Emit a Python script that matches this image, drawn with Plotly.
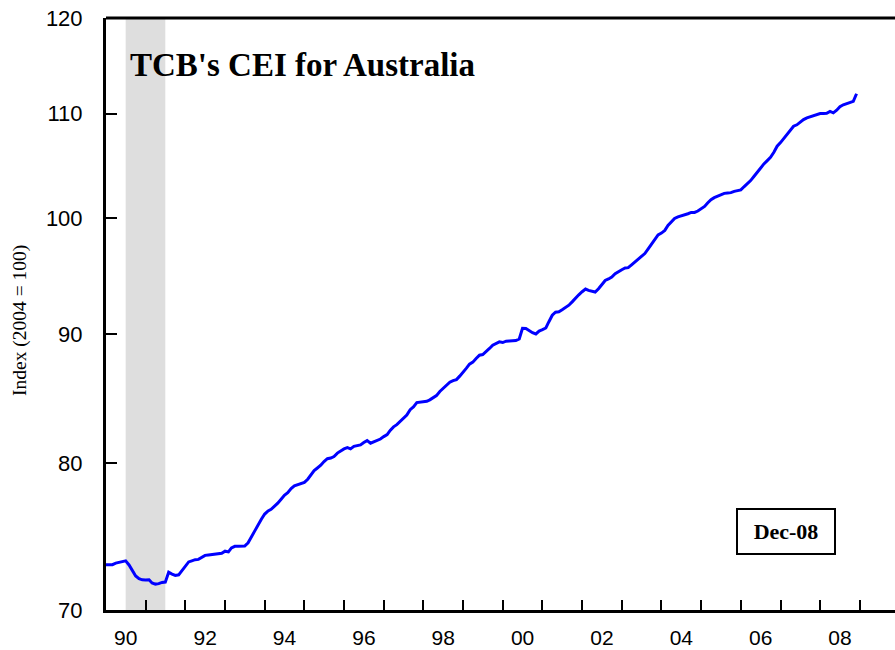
import math
import pandas as pd
import plotly.graph_objects as go

# ---- data (monthly, Jan 1990 - Dec 2008), index 2004 = 100 ----
cei_1990 = [72.95, 72.95, 72.95, 73.05, 73.10, 73.15, 73.20, 72.93, 72.51, 72.20, 72.02, 71.95]
cei_1991 = [71.94, 71.95, 71.74, 71.67, 71.70, 71.78, 71.80, 72.45, 72.33, 72.24, 72.28, 72.55]
cei_1992 = [72.86, 73.13, 73.20, 73.28, 73.30, 73.44, 73.57, 73.60, 73.62, 73.68, 73.68, 73.71]
cei_1993 = [73.85, 73.80, 74.07, 74.18, 74.18, 74.18, 74.20, 74.42, 74.84, 75.24, 75.61, 76.03]
cei_1994 = [76.39, 76.61, 76.72, 76.91, 77.15, 77.43, 77.71, 77.89, 78.18, 78.37, 78.46, 78.52]
cei_1995 = [78.62, 78.85, 79.18, 79.47, 79.66, 79.86, 80.13, 80.34, 80.39, 80.50, 80.75, 80.93]
cei_1996 = [81.06, 81.15, 81.06, 81.25, 81.28, 81.35, 81.53, 81.67, 81.48, 81.58, 81.67, 81.79]
cei_1997 = [81.97, 82.12, 82.44, 82.70, 82.87, 83.10, 83.39, 83.59, 84.01, 84.22, 84.55, 84.60]
cei_1998 = [84.60, 84.65, 84.76, 84.91, 85.09, 85.41, 85.66, 85.93, 86.13, 86.26, 86.34, 86.61]
cei_1999 = [86.89, 87.24, 87.56, 87.72, 88.01, 88.28, 88.33, 88.55, 88.82, 89.09, 89.20, 89.36]
cei_2000 = [89.30, 89.41, 89.43, 89.43, 89.46, 89.59, 90.47, 90.45, 90.27, 90.10, 90.00, 90.24]
cei_2001 = [90.35, 90.49, 91.01, 91.55, 91.80, 91.83, 92.00, 92.19, 92.39, 92.67, 93.02, 93.27]
cei_2002 = [93.53, 93.76, 93.64, 93.55, 93.50, 93.78, 94.15, 94.49, 94.62, 94.79, 95.07, 95.27]
cei_2003 = [95.42, 95.57, 95.60, 95.85, 96.11, 96.32, 96.58, 96.84, 97.26, 97.70, 98.12, 98.50]
cei_2004 = [98.66, 98.90, 99.34, 99.68, 99.98, 100.13, 100.22, 100.25, 100.41, 100.53, 100.53, 100.66]
cei_2005 = [100.86, 101.08, 101.40, 101.70, 101.89, 102.05, 102.14, 102.29, 102.33, 102.36, 102.48, 102.55]
cei_2006 = [102.62, 102.93, 103.18, 103.49, 103.87, 104.28, 104.70, 105.07, 105.39, 105.71, 106.19, 106.78]
cei_2007 = [107.13, 107.53, 107.85, 108.28, 108.74, 108.88, 109.17, 109.40, 109.57, 109.67, 109.80, 109.90]
cei_2008 = [110.00, 110.00, 110.03, 110.21, 110.07, 110.34, 110.68, 110.88, 111.02, 111.15, 111.23, 112.00]

years = list(range(1990, 2010))
year_labels = ["90", "92", "94", "96", "98", "00", "02", "04", "06", "08"]
label_years = [1990, 1992, 1994, 1996, 1998, 2000, 2002, 2004, 2006, 2008]
y_ticks = [70, 80, 90, 100, 110, 120]
y_range = [70, 120]
recession = ["1990-07-01", "1991-07-01"]

cei = (cei_1990 + cei_1991 + cei_1992 + cei_1993 + cei_1994 + cei_1995 + cei_1996
       + cei_1997 + cei_1998 + cei_1999 + cei_2000 + cei_2001 + cei_2002 + cei_2003
       + cei_2004 + cei_2005 + cei_2006 + cei_2007 + cei_2008)
months = pd.date_range("1990-01-01", periods=len(cei), freq="MS")

fig = go.Figure()
fig.add_trace(go.Scatter(x=months, y=cei, mode="lines",
                         line=dict(color="#0000FF", width=3), hoverinfo="x+y"))

fig.add_vrect(x0=recession[0], x1=recession[1], fillcolor="#DEDEDE",
              line_width=0, layer="below")

# top frame line
fig.add_shape(type="line", xref="paper", yref="paper", x0=0, x1=1, y0=1, y1=1,
              line=dict(color="black", width=3))

fig.update_xaxes(
    type="date",
    range=["1990-01-01", "2009-11-20"],
    tickmode="array",
    tickvals=[f"{y}-07-02" for y in label_years],
    ticktext=year_labels,
    ticks="",
    showline=True, linecolor="black", linewidth=3,
    showgrid=False, zeroline=False, automargin=False,
    tickfont=dict(family="Liberation Sans, Arial", size=21, color="black"),
    ticklabelstandoff=7,
    minor=dict(tickmode="array", tickvals=[f"{y}-01-01" for y in years[1:]],
               ticks="inside", ticklen=10, tickwidth=1.5, tickcolor="black", showgrid=False),
)
fig.update_yaxes(
    type="log",
    range=[math.log10(y_range[0]), math.log10(y_range[1])],
    tickmode="array",
    tickvals=y_ticks,
    ticktext=[str(v) for v in y_ticks],
    ticks="inside", ticklen=11, tickwidth=1.5, tickcolor="black",
    showline=True, linecolor="black", linewidth=3,
    showgrid=False, zeroline=False, automargin=False,
    tickfont=dict(family="Liberation Sans, Arial", size=22, color="black"),
    ticklabelstandoff=16,
)

fig.add_annotation(text="<b>TCB's CEI for Australia</b>", xref="paper", yref="paper",
                   x=0.028, y=0.9206, xanchor="left", yanchor="middle", showarrow=False,
                   font=dict(family="Liberation Serif, Times New Roman", size=33, color="black"))
fig.add_annotation(text="<b>Dec-08</b>", xref="paper", yref="paper",
                   x=0.8618, y=0.1326, xanchor="center", yanchor="middle", showarrow=False,
                   width=96, height=43, borderwidth=2, bordercolor="black", borderpad=0,
                   bgcolor="white",
                   font=dict(family="Liberation Serif, Times New Roman", size=22, color="black"))
fig.add_annotation(text="Index (2004 = 100)", xref="paper", yref="paper",
                   x=-0.109, y=0.49, xanchor="center", yanchor="middle", textangle=-90,
                   showarrow=False,
                   font=dict(family="Liberation Serif, Times New Roman", size=19.5, color="black"))

fig.update_layout(
    width=895, height=650,
    margin=dict(l=106, r=0, t=18, b=40),
    plot_bgcolor="white", paper_bgcolor="white",
    showlegend=False,
)

fig.write_html("out.html", config={"displayModeBar": False},
               post_script="document.body.style.margin='0';")
